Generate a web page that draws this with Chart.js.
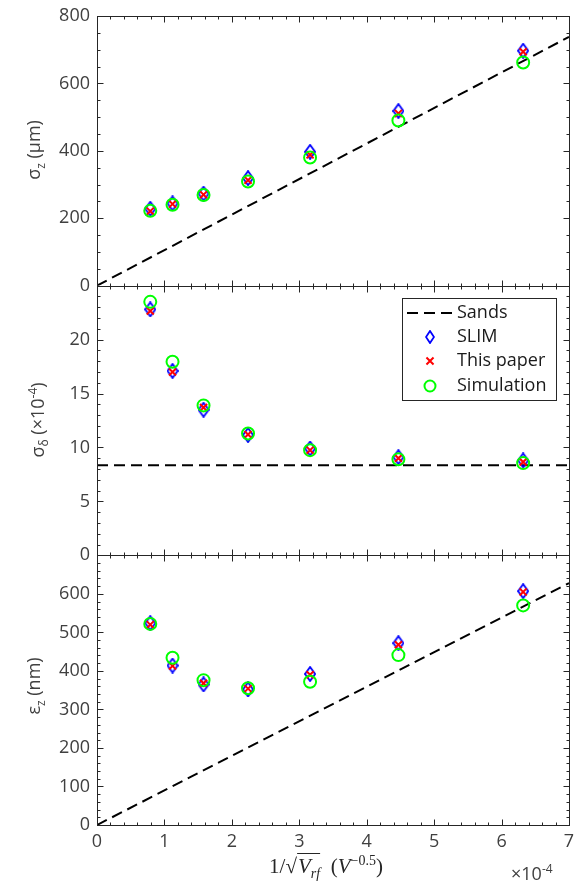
<!DOCTYPE html>
<html>
<head>
<meta charset="utf-8">
<script src="https://cdn.jsdelivr.net/npm/chart.js@4/dist/chart.umd.min.js"></script>
<style>
  body { margin: 0; background: #fff; }
  #wrap { position: relative; width: 588px; height: 884px; }
  .lbl { position: absolute; font-family: "Open Sans", sans-serif; font-size: 18px; color: #404040; white-space: nowrap; }
  .rot { transform: translate(-50%, -50%) rotate(-90deg); }
  .lbl sub, .lbl sup { font-size: 12px; }
  .xt { font-family: "Liberation Serif", serif; font-size: 21px; color: #262626; transform: translate(-50%, 0); }
  .xt sub, .xt sup { font-size: 14px; }
  .rad { border-top: 1px solid #262626; padding-left: 1px; }
</style>
</head>
<body>
<div id="wrap">
  <canvas id="c" width="588" height="884"></canvas>
  <div class="lbl rot" style="left:35px; top:150px;">σ<sub>z</sub> (μm)</div>
  <div class="lbl rot" style="left:38px; top:420px;">σ<sub>δ</sub> (×10<sup>-4</sup>)</div>
  <div class="lbl rot" style="left:35px; top:686px;">ε<sub>z</sub> (nm)</div>
  <div class="lbl xt" style="left:326px; top:853px;">1/√<span class="rad"><i>V</i><sub><i>rf</i></sub></span>&nbsp; (<i>V</i><sup>−0.5</sup>)</div>
  <div class="lbl" style="left:511px; top:860px; font-size:18px;">×10<sup>-4</sup></div>
</div>
<script>
// x = 1/sqrt(Vrf), in units of 1e-4
const xVals = [0.79, 1.12, 1.58, 2.24, 3.16, 4.47, 6.32];

// sigma_z (um)
const slimZ = [228, 244, 273, 319, 397, 518, 697];
const paperZ = [221, 242, 270, 313, 388, 511, 694];
const simZ = [222, 240, 269, 309, 380, 490, 662];
const sandsZ = [[0, 0], [7, 738]];

// sigma_delta (1e-4)
const slimD = [22.8, 17.1, 13.5, 11.15, 9.9, 9.1, 8.8];
const paperD = [22.65, 17.0, 13.7, 11.2, 9.75, 9.0, 8.65];
const simD = [23.5, 17.95, 13.9, 11.3, 9.75, 8.9, 8.55];
const sandsD = [[0, 8.35], [7, 8.35]];

// epsilon_z (nm)
const slimE = [524, 414, 365, 352, 392, 472, 607];
const paperE = [520, 413, 368, 354, 390, 468, 605];
const simE = [522, 434, 376, 355, 372, 441, 570];
const sandsE = [[0, 0], [7, 628]];

const xTicks = [0, 1, 2, 3, 4, 5, 6, 7];

const AXIS = '#262626';
const TICK_TXT = '#404040';
const tickFont = { family: 'Open Sans', size: 18, lineHeight: 1 };

function diamondImage(w, h, color) {
  const c = document.createElement('canvas');
  c.width = w;
  c.height = h;
  const g = c.getContext('2d');
  g.strokeStyle = color;
  g.lineWidth = 1.8;
  g.beginPath();
  g.moveTo(w / 2, 1);
  g.lineTo(w - 1, h / 2);
  g.lineTo(w / 2, h - 1);
  g.lineTo(1, h / 2);
  g.closePath();
  g.stroke();
  return c;
}
const diamond = diamondImage(12, 16, '#0000ff');

const pts = (ys) => ys.map((y, i) => ({ x: xVals[i], y }));
const pairs = (a) => a.map(([x, y]) => ({ x, y }));

const series = {
  sands: { showLine: true, borderColor: '#000', borderWidth: 2, borderDash: [11, 6], pointRadius: 0, order: 4 },
  slim: { pointStyle: diamond, pointRadius: 7, order: 3 },
  paper: { pointStyle: 'crossRot', pointRadius: 5, borderColor: '#ff0000', borderWidth: 2, order: 2 },
  sim: { pointStyle: 'circle', pointRadius: 6, borderColor: '#00ff00', backgroundColor: 'rgba(0,0,0,0)', borderWidth: 2, order: 1 },
};

function panelSets(axis, sands, slim, paper, sim) {
  return [
    Object.assign({ label: 'Sands', yAxisID: axis, data: pairs(sands) }, series.sands),
    Object.assign({ label: 'SLIM', yAxisID: axis, data: pts(slim) }, series.slim),
    Object.assign({ label: 'This paper', yAxisID: axis, data: pts(paper) }, series.paper),
    Object.assign({ label: 'Simulation', yAxisID: axis, data: pts(sim) }, series.sim),
  ];
}

// panel setup: y range, major/minor tick steps
const panels = [
  { id: 'y1', min: 0, max: 800, major: 200, minor: 50, weight: 3, hide: [] },
  { id: 'y2', min: 0, max: 25, major: 5, minor: 1, weight: 2, hide: [25] },
  { id: 'y3', min: 0, max: 700, major: 100, minor: 20, weight: 1, hide: [700] },
];

const scales = {
  x: {
    type: 'linear', min: 0, max: 7,
    afterBuildTicks: (s) => { s.ticks = xTicks.map((v) => ({ value: v })); },
    ticks: { font: tickFont, color: TICK_TXT, padding: 8, maxRotation: 0, autoSkip: false },
    grid: { display: false, drawTicks: false },
    border: { display: false },
    afterFit: (s) => { s.height = 59; },
  },
};
panels.forEach((p) => {
  scales[p.id] = {
    type: 'linear', position: 'left', stack: 'v', stackWeight: 1, weight: p.weight,
    min: p.min, max: p.max,
    ticks: {
      stepSize: p.major, font: tickFont, color: TICK_TXT, padding: 7, autoSkip: false,
      callback: (v) => (p.hide.includes(v) ? '' : v),
    },
    grid: { display: false, drawTicks: false },
    border: { display: false },
    afterFit: (s) => { s.width = 97; },
  };
});

const isMult = (v, step) => Math.abs(v / step - Math.round(v / step)) < 1e-6;

const framePlugin = {
  id: 'frame',
  afterDatasetsDraw(chart) {
    const { ctx, chartArea } = chart;
    const { left, right } = chartArea;
    const xs = chart.scales.x;
    ctx.save();
    ctx.strokeStyle = AXIS;
    ctx.lineWidth = 1;
    const seg = (x1, y1, x2, y2) => {
      ctx.beginPath();
      ctx.moveTo(x1, y1);
      ctx.lineTo(x2, y2);
      ctx.stroke();
    };
    panels.forEach((p) => {
      const s = chart.scales[p.id];
      const top = Math.round(s.top) + 0.5;
      const bottom = Math.round(s.bottom) + 0.5;
      const l = Math.round(left) + 0.5;
      const r = Math.round(right) + 0.5;
      ctx.strokeRect(l, top, r - l, bottom - top);
      for (let v = p.min; v <= p.max + 1e-9; v += p.minor) {
        const y = Math.round(s.getPixelForValue(v)) + 0.5;
        const len = isMult(v, p.major) ? 6 : 3;
        seg(l, y, l + len, y);
        seg(r, y, r - len, y);
      }
      for (let v = 0; v <= 7 + 1e-9; v += 0.2) {
        const x = Math.round(xs.getPixelForValue(v)) + 0.5;
        const len = isMult(v, 1) ? 6 : 3;
        seg(x, bottom, x, bottom - len);
        seg(x, top, x, top + len);
      }
    });
    ctx.restore();
  },
  afterDraw(chart) {
    // legend inside the middle panel
    const { ctx } = chart;
    const bx = 402, by = 298, bw = 154, bh = 102;
    ctx.save();
    ctx.fillStyle = '#fff';
    ctx.fillRect(bx, by, bw, bh);
    ctx.strokeStyle = AXIS;
    ctx.lineWidth = 1;
    ctx.strokeRect(bx + 0.5, by + 0.5, bw, bh);
    const rows = [
      { text: 'Sands', y: 313 },
      { text: 'SLIM', y: 337 },
      { text: 'This paper', y: 361 },
      { text: 'Simulation', y: 386 },
    ];
    ctx.font = '18px "Open Sans"';
    ctx.fillStyle = '#1a1a1a';
    ctx.textBaseline = 'middle';
    rows.forEach((r) => ctx.fillText(r.text, 457, r.y));
    // symbols
    ctx.strokeStyle = '#000';
    ctx.lineWidth = 2;
    ctx.setLineDash([11, 6]);
    ctx.beginPath();
    ctx.moveTo(407, rows[0].y);
    ctx.lineTo(455, rows[0].y);
    ctx.stroke();
    ctx.setLineDash([]);
    ctx.fillStyle = 'rgba(0,0,0,0)';
    Chart.helpers.drawPoint(ctx, { pointStyle: diamondImage(10, 14, '#0000ff'), radius: 6, rotation: 0 }, 430, rows[1].y);
    ctx.strokeStyle = '#ff0000';
    ctx.lineWidth = 2;
    Chart.helpers.drawPoint(ctx, { pointStyle: 'crossRot', radius: 5, rotation: 0, borderWidth: 2 }, 430, rows[2].y);
    ctx.strokeStyle = '#00ff00';
    Chart.helpers.drawPoint(ctx, { pointStyle: 'circle', radius: 5.5, rotation: 0, borderWidth: 2 }, 430, rows[3].y);
    ctx.restore();
  },
};

new Chart(document.getElementById('c'), {
  type: 'scatter',
  data: {
    datasets: [
      ...panelSets('y1', sandsZ, slimZ, paperZ, simZ),
      ...panelSets('y2', sandsD, slimD, paperD, simD),
      ...panelSets('y3', sandsE, slimE, paperE, simE),
    ],
  },
  options: {
    responsive: false,
    animation: false,
    layout: { padding: { top: 14, right: 19, left: 0, bottom: 0 } },
    plugins: { legend: { display: false }, tooltip: { enabled: false } },
    scales,
  },
  plugins: [framePlugin],
});
</script>
</body>
</html>
